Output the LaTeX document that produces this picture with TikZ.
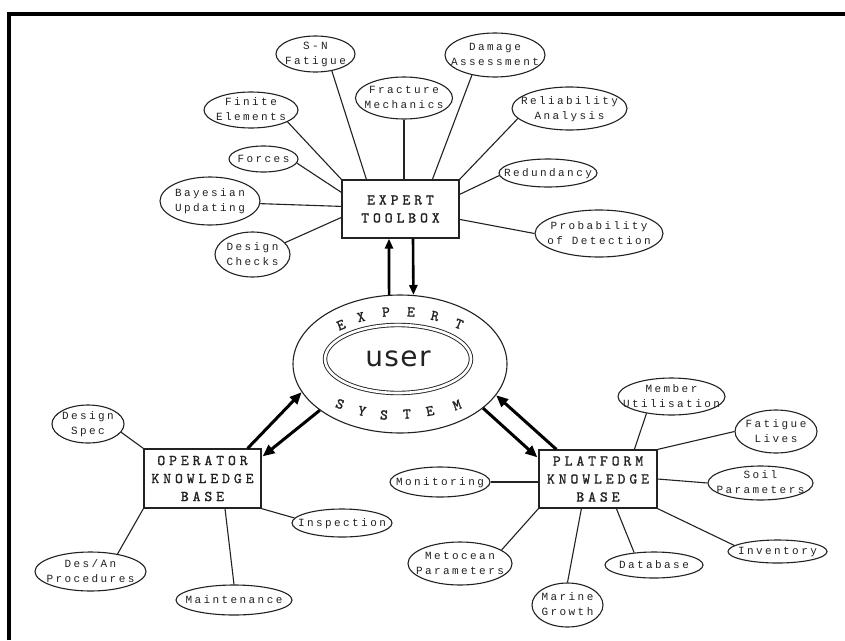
\documentclass[tikz,border=0pt]{standalone}
\usepackage{fontspec}
\usetikzlibrary{shapes.geometric,arrows.meta,calc}
\newfontfamily\ovalfont[LetterSpace=22]{Liberation Mono}
\newfontfamily\boxfont[LetterSpace=26,FakeBold=1.2]{lmmono10-regular.otf}
\newfontfamily\userfont[LetterSpace=5]{DejaVu Sans}
\definecolor{ink}{HTML}{222222}
% oval label: centred, taking no room, so the ellipse keeps its given size
\newcommand\ot[1]{\smash{\makebox[0pt]{\raisebox{-0.25em}{\begin{tabular}{@{}c@{}}#1\end{tabular}}}}}
\begin{document}
\begin{tikzpicture}[x=1pt,y=-1pt,
  oval/.style={draw=ink, ellipse, inner sep=0pt, line width=1.1pt, text=ink,
    font=\ovalfont\fontsize{11}{15}\selectfont},
  kbox/.style={draw=ink, rectangle, inner sep=0pt, line width=1.2pt, align=center,
    text=ink, font=\boxfont\fontsize{15}{18}\selectfont},
  link/.style={draw=ink, line width=1.1pt},
  flow/.style={draw=black, line width=3pt, -{Triangle[length=12pt,width=10pt]}},
  vflow/.style={draw=black, line width=2.6pt, -{Triangle[length=10pt,width=8pt]}},
  ring/.style={inner sep=0pt, text=ink, font=\boxfont\fontsize{15}{15}\selectfont}]
\fill[white] (0,0) rectangle (845,640);
\useasboundingbox (0,0) rectangle (845,640);
% frame
\draw[line width=4pt, line join=miter] (9,640) -- (9,13.5) -- (845,13.5);

% central expert system
\node[draw=ink, ellipse, line width=1.1pt, minimum width=214, minimum height=138, inner sep=0pt] (es) at (400,364) {};
\node[draw=ink, ellipse, line width=0.9pt, double, double distance=2.6pt, minimum width=146, minimum height=68,
  inner sep=0pt, text=ink, font=\userfont\fontsize{28}{28}\selectfont] (us) at (398,359) {user};
\node[ring, rotate=22]  (r1) at (341,325) {E};
\node[ring, rotate=13]  (r2) at (361,317) {X};
\node[ring, rotate=4]   (r3) at (386,312) {P};
\node[ring, rotate=-4]  (r4) at (411,312) {E};
\node[ring, rotate=-13] (r5) at (435,316) {R};
\node[ring, rotate=-22] (r6) at (459,324) {T};
\node[ring, rotate=-20] (s1) at (340,404) {S};
\node[ring, rotate=-12] (s2) at (362,411) {Y};
\node[ring, rotate=-4]  (s3) at (384,415) {S};
\node[ring, rotate=4]   (s4) at (407,414) {T};
\node[ring, rotate=12]  (s5) at (430,411) {E};
\node[ring, rotate=20]  (s6) at (457,405) {M};

% knowledge boxes
\node[kbox, minimum width=117, minimum height=58] (tb) at (400.5,209) {EXPERT\\TOOLBOX};
\node[kbox, minimum width=117, minimum height=59] (op) at (202.5,478.5) {OPERATOR\\KNOWLEDGE\\BASE};
\node[kbox, minimum width=118, minimum height=58] (pl) at (598,479) {PLATFORM\\KNOWLEDGE\\BASE};

% toolbox items
\node[oval, minimum width=79,  minimum height=36] (sn) at (315.5,54)  {\ot{S-N\\Fatigue}};
\node[oval, minimum width=100, minimum height=44] (da) at (495,55)    {\ot{Damage\\Assessment}};
\node[oval, minimum width=97,  minimum height=42] (fm) at (404,98)    {\ot{Fracture\\Mechanics}};
\node[oval, minimum width=94,  minimum height=36] (fe) at (251,110)   {\ot{Finite\\Elements}};
\node[oval, minimum width=69,  minimum height=26] (fo) at (263.5,159) {\ot{Forces}};
\node[oval, minimum width=100, minimum height=48] (ba) at (210,201)   {\ot{Bayesian\\Updating}};
\node[oval, minimum width=75,  minimum height=45] (dc) at (252.5,254.5) {\ot{Design\\Checks}};
\node[oval, minimum width=115, minimum height=43] (ra) at (569.5,108.5) {\ot{Reliability\\Analysis}};
\node[oval, minimum width=98,  minimum height=28] (rd) at (548,173)   {\ot{Redundancy}};
\node[oval, minimum width=128, minimum height=47] (pd) at (599,233.5) {\ot{Probability\\of Detection}};

% operator items
\node[oval, minimum width=72,  minimum height=38] (ds) at (88,424)    {\ot{Design\\Spec}};
\node[oval, minimum width=111, minimum height=39] (dp) at (90.5,571.5) {\ot{Des/An\\Procedures}};
\node[oval, minimum width=116, minimum height=30] (mt) at (234,600)   {\ot{Maintenance}};
\node[oval, minimum width=100, minimum height=28] (in) at (342,523)   {\ot{Inspection}};

% platform items
\node[oval, minimum width=107, minimum height=37] (mu) at (671.5,396.5) {\ot{Member\\Utilisation}};
\node[oval, minimum width=82,  minimum height=43] (fl) at (776,431.5)   {\ot{Fatigue\\Lives}};
\node[oval, minimum width=105, minimum height=34] (sp) at (760.5,483)   {\ot{Soil\\Parameters}};
\node[oval, minimum width=99,  minimum height=23] (iv) at (777.5,551.5) {\ot{Inventory}};
\node[oval, minimum width=98,  minimum height=26] (db) at (654,565)     {\ot{Database}};
\node[oval, minimum width=71,  minimum height=44] (mg) at (567.5,605)   {\ot{Marine\\Growth}};
\node[oval, minimum width=104, minimum height=43] (mp) at (460,563.5)   {\ot{Metocean\\Parameters}};
\node[oval, minimum width=100, minimum height=30] (mo) at (440,482)     {\ot{Monitoring}};

% toolbox links
\draw[link] (sn.-46) -- ($(tb.north west)+(25,0)$);
\draw[link] (fm.south) -- (fm.south |- tb.north);
\draw[link] (da.221) -- ($(tb.north west)+(91,0)$);
\draw[link] (fe.-18) -- (tb.north west);
\draw[link] (fo.-7) -- ($(tb.north west)+(0,13)$);
\draw[link] (ba.-3) -- ($(tb.north west)+(0,27)$);
\draw[link] (dc.20) -- ($(tb.north west)+(0,38)$);
\draw[link] (ra.191) -- (tb.north east);
\draw[link] (rd.183) -- ($(tb.north east)+(0,15)$);
\draw[link] (pd.west) -- ($(tb.north east)+(0,40)$);

% operator links
\draw[link] (ds.-14) -- (op.north west);
\draw[link] (dp.33) -- (op.south west);
\draw[link] ($(op.south)+(22.5,0)$) -- (mt.north);
\draw[link] (op.south east) -- (in.174);

% platform links
\draw[link] (mu.214) -- ($(pl.north west)+(96,0)$);
\draw[link] (fl.west) -- (pl.north east);
\draw[link] (pl.east) -- (sp.west);
\draw[link] (pl.south east) -- (iv.172);
\draw[link] ($(pl.south west)+(78,0)$) -- (db.148);
\draw[link] ($(pl.south west)+(43,0)$) -- (mg.north);
\draw[link] (pl.south west) -- (mp.18);
\draw[link] (mo.east) -- (mo.east -| pl.west);

% flows between the expert system and the three bases
\draw[vflow] (es.99) -- ($(tb.south)+(-11.5,0)$);
\draw[vflow] ($(tb.south)+(12.5,0)$) -- (es.79);
\draw[flow] ($(op.north east)+(-14,0)$) -- (es.196);
\draw[flow] (es.210) -- ($(op.north east)+(1,8)$);
\draw[flow] ($(pl.north west)+(18,0)$) -- (es.-18);
\draw[flow] (es.-28) -- ($(pl.north west)+(-1,8)$);
\end{tikzpicture}
\end{document}
